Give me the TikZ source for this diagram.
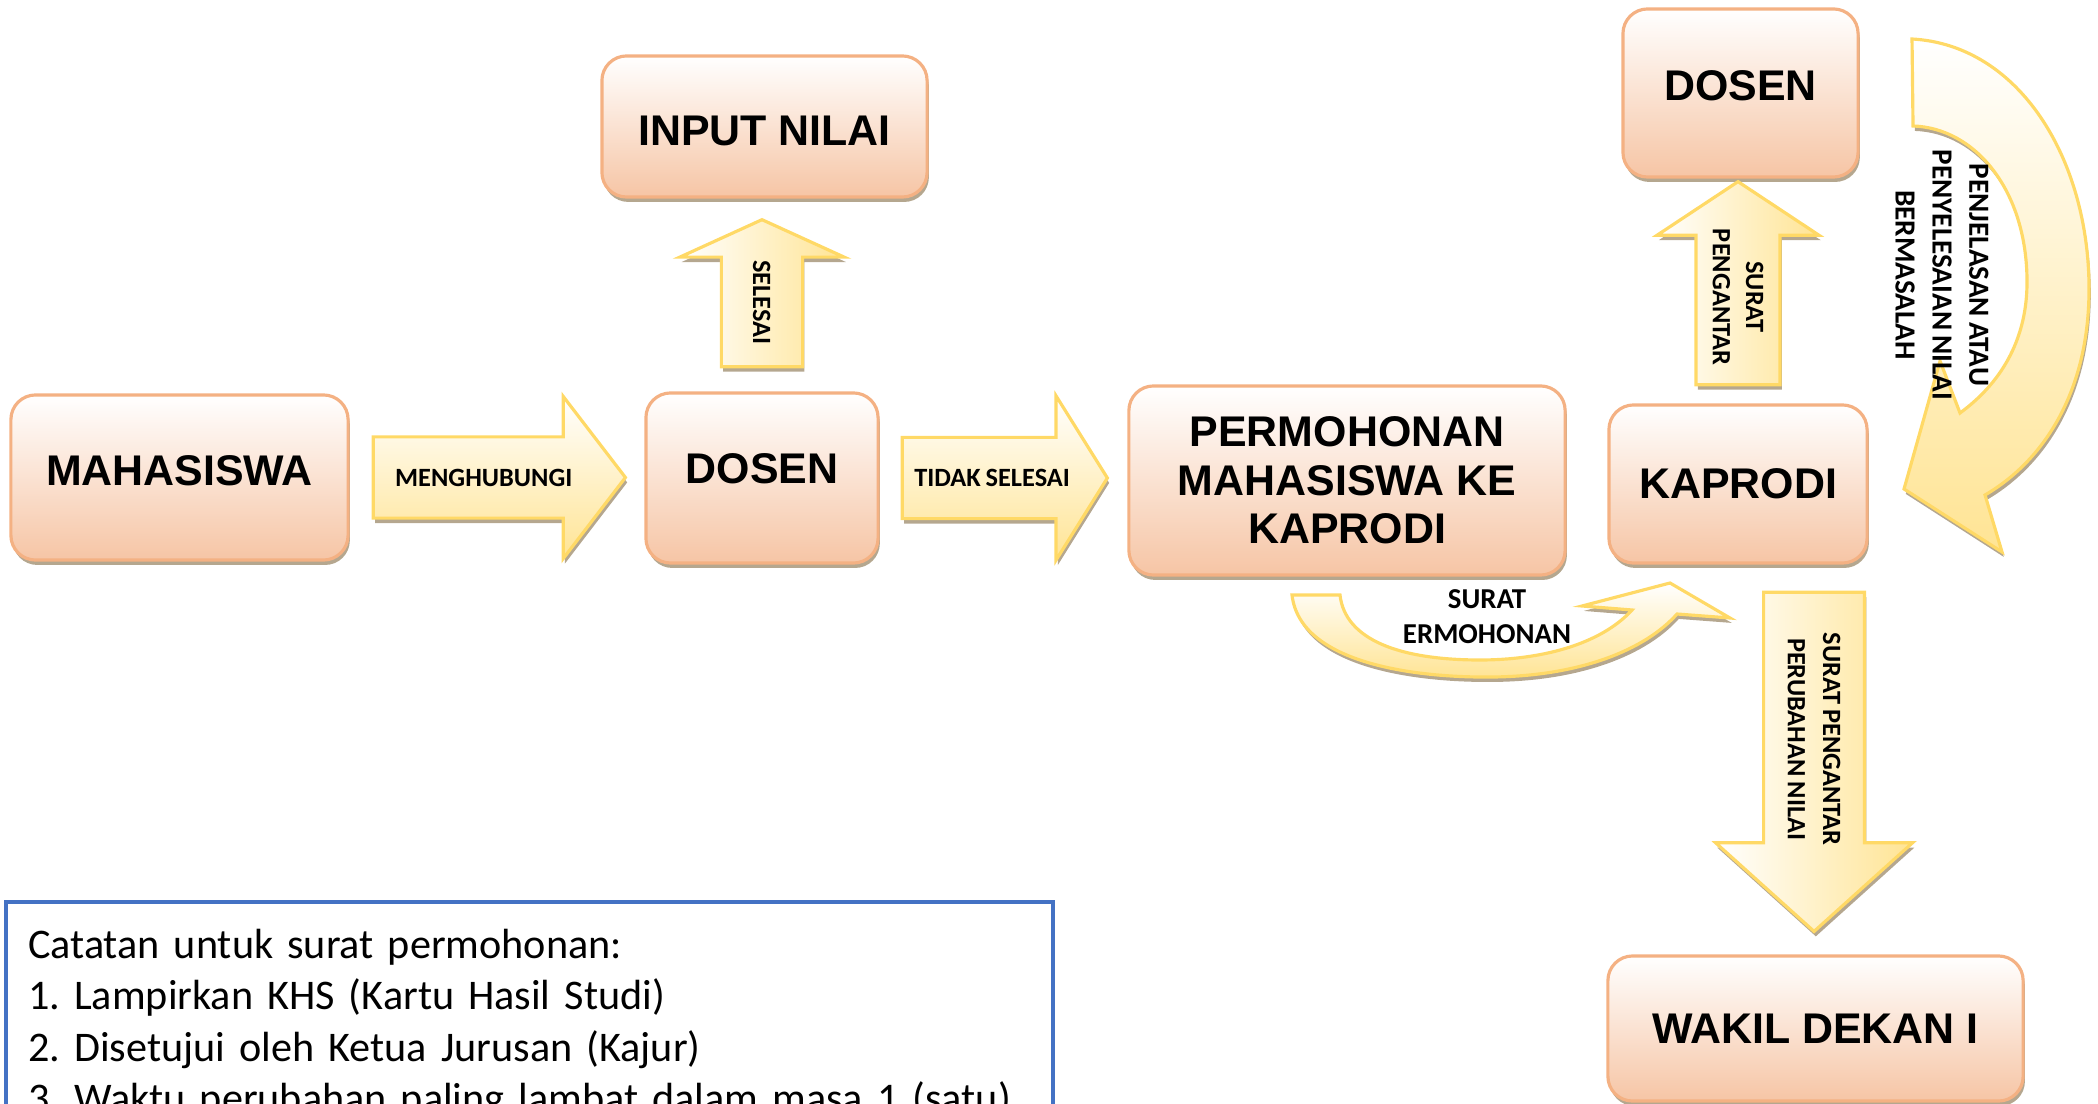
\documentclass[tikz,border=0pt]{standalone}
\usepackage{fontspec}
\setmainfont{Carlito}[WordSpace=0.8]
\newfontfamily\boxfont{Liberation Sans}
\usepackage{tikz}
\usetikzlibrary{shapes}
\usetikzlibrary{shapes.arrows}
\usetikzlibrary{shadows}
\usepackage{xcolor}
\definecolor{boxline}{HTML}{F4B183}
\definecolor{boxfill}{HTML}{F6C5A5}
\definecolor{arrline}{HTML}{FFD966}
\definecolor{arrfill}{HTML}{FFE494}
\definecolor{shadowc}{HTML}{9C8A6A}
\definecolor{noteline}{HTML}{4472C4}
\frenchspacing

\begin{document}
\begin{tikzpicture}[x=0.01cm,y=-0.01cm,
  shdw/.style={drop shadow={shadow xshift=0.5pt,shadow yshift=-1.4pt,fill=shadowc,opacity=0.75}},
  box/.style={rectangle,rounded corners=7pt,draw=boxline,line width=0.9pt,
    top color=white,bottom color=boxfill,shdw,align=center,
    font=\boxfont\bfseries\fontsize{12.2}{13.8}\selectfont},
  barrow/.style={single arrow,draw=arrline,line width=0.9pt,
    top color=white,bottom color=arrfill,shdw,inner xsep=0pt,
    align=center,font=\bfseries\fontsize{7.5}{9.4}\selectfont},
  oneline/.style={text height=5pt,text depth=0pt,inner ysep=8.6pt},
  varrow/.style={barrow,rotate=-90,left color=white,right color=arrfill},
  band/.style={draw=arrline,line width=0.9pt,top color=white,bottom color=arrfill,shdw},
  lbl/.style={align=center,font=\bfseries\fontsize{8.2}{10}\selectfont}]
\useasboundingbox (0,0) rectangle (2098,1104);

% boxes
\node[box,minimum width=3.37cm,minimum height=1.65cm,text depth=3.7pt] (mhs) at (179.5,477.5) {MAHASISWA};
\node[box,minimum width=2.32cm,minimum height=1.70cm,text depth=5.6pt] (dsn) at (762,478) {DOSEN};
\node[box,minimum width=3.25cm,minimum height=1.41cm,text height=11.2pt] (inp) at (764.5,126.5) {INPUT NILAI};
\node[box,minimum width=4.36cm,minimum height=1.89cm] (perm) at (1347,480.5) {PERMOHONAN\\MAHASISWA KE\\KAPRODI};
\node[box,minimum width=2.58cm,minimum height=1.58cm] (kap) at (1738,484) {KAPRODI};
\node[box,minimum width=2.35cm,minimum height=1.68cm,text depth=4pt] (dsn2) at (1740.5,93) {DOSEN};
\node[box,minimum width=4.15cm,minimum height=1.45cm] (wd) at (1815.5,1028.5) {WAKIL DEKAN I};

% straight arrows
\node[barrow,oneline,minimum height=2.52cm,minimum width=1.59cm,single arrow head extend=0.405cm,
  single arrow tip angle=105,anchor=tail] (a1) at ([xshift=0.22cm]mhs.east) {MENGHUBUNGI};
\node[barrow,oneline,minimum height=2.05cm,minimum width=1.61cm,single arrow head extend=0.415cm,
  single arrow tip angle=116,anchor=tail] (a2) at ([xshift=0.21cm]dsn.east) {TIDAK SELESAI};
\node[varrow,oneline,shape border rotate=180,minimum height=1.47cm,minimum width=1.61cm,
  single arrow head extend=0.415cm,single arrow tip angle=131,anchor=tail] (a3) at ([yshift=0.23cm]dsn.north) {SELESAI};
\node[varrow,inner ysep=4.3pt,shape border rotate=180,minimum height=2.03cm,minimum width=1.58cm,
  single arrow head extend=0.39cm,single arrow tip angle=113,anchor=tail] (a4) at ([yshift=0.17cm]kap.north) {SURAT\\PENGANTAR};
\node[varrow,inner ysep=6.4pt,font=\bfseries\fontsize{7.5}{10}\selectfont,minimum height=3.39cm,minimum width=1.93cm,
  single arrow head extend=0.48cm,single arrow tip angle=96,anchor=tail] (a5) at ([xshift=0.76cm,yshift=-0.26cm]kap.south) {SURAT PENGANTAR\\PERUBAHAN NILAI};

% curved arrows
\draw[band] (1292,595) .. controls (1300,665) and (1420,678) .. (1493,677)
  .. controls (1580,676) and (1645,650) .. (1677,614) -- (1730,618) -- (1670,583)
  -- (1582,606) -- (1632,610) .. controls (1600,645) and (1540,660) .. (1480,660)
  .. controls (1400,660) and (1345,640) .. (1340,595) -- cycle;
\node[lbl] (l1) at (1487,617) {SURAT\\ERMOHONAN};
\draw[band] (1912,39) .. controls (2020,45) and (2089,160) .. (2089,289)
  .. controls (2089,390) and (2045,460) .. (1985,495) -- (2002,552) -- (1904,489)
  -- (1940,361) -- (1960,413) .. controls (2005,380) and (2027,335) .. (2027,282)
  .. controls (2027,190) and (1975,128) .. (1913,126) -- cycle;
\node[lbl,rotate=-90,font=\bfseries\fontsize{8.3}{10.5}\selectfont] (l2) at (1942,275)
  {PENJELASAN ATAU\\PENYELESAIAN NILAI\\BERMASALAH};

% note
\node[draw=noteline,line width=1.2pt,anchor=north west,inner xsep=0.22cm,inner ysep=0.27cm,
  text width=10.02cm,align=left,font=\fontsize{12}{14.65}\selectfont] (note) at (4,900)
  {Catatan untuk surat permohonan:\\1. Lampirkan KHS (Kartu Hasil Studi)\\
   2. Disetujui oleh Ketua Jurusan (Kajur)\\3. Waktu perubahan paling lambat dalam masa 1 (satu)};
\end{tikzpicture}
\end{document}
